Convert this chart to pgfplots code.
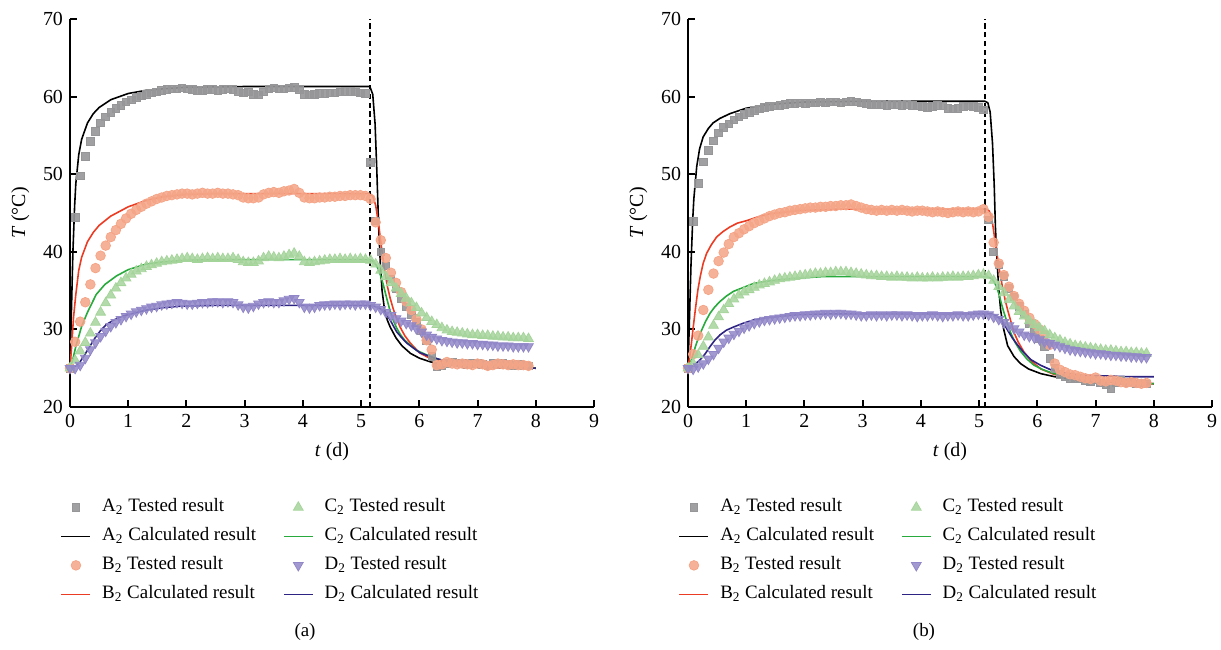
\documentclass[border=0pt]{standalone}
\usepackage{fontspec}
\setmainfont{Liberation Serif}
\usepackage{pgfplots}
\pgfplotsset{compat=1.18}
\usepackage{pgfplotstable}

\definecolor{mgray}{RGB}{150,150,152}
\definecolor{morange}{RGB}{245,165,135}
\definecolor{mgreen}{RGB}{165,212,155}
\definecolor{mpurple}{RGB}{145,135,200}
\definecolor{lred}{RGB}{235,60,35}
\definecolor{lgreen}{RGB}{40,170,60}
\definecolor{lnavy}{RGB}{45,35,130}

\pgfplotstableread{
t A B C D
0 25.0 25.0 25.0 25.0
0.088 44.4 28.4 26.0 25.0
0.175 49.8 31.0 27.2 25.4
0.263 52.3 33.5 28.3 26.3
0.35 54.2 35.8 29.5 27.4
0.438 55.5 37.9 30.9 28.3
0.525 56.6 39.5 32.2 29.1
0.613 57.4 40.8 33.4 29.8
0.7 58.0 41.9 34.4 30.4
0.788 58.5 42.8 35.3 30.9
0.875 58.9 43.6 36.0 31.3
0.963 59.3 44.3 36.6 31.7
1.05 59.6 44.9 37.1 32.0
1.138 59.9 45.4 37.5 32.3
1.225 60.1 45.8 37.8 32.5
1.313 60.3 46.2 38.1 32.7
1.4 60.5 46.5 38.3 32.9
1.488 60.6 46.8 38.5 33.0
1.575 60.8 47.0 38.7 33.2
1.663 60.9 47.2 38.8 33.3
1.75 61.0 47.3 38.9 33.4
1.838 61.0 47.4 39.0 33.5
1.925 61.1 47.5 39.1 33.4
2.013 61.0 47.5 39.2 33.3
2.1 60.9 47.4 39.1 33.3
2.188 60.8 47.5 39.0 33.4
2.275 60.8 47.6 39.1 33.5
2.363 60.9 47.5 39.2 33.5
2.45 60.9 47.5 39.1 33.6
2.538 60.8 47.6 39.2 33.6
2.625 60.9 47.5 39.1 33.5
2.713 61.0 47.5 39.1 33.6
2.8 60.9 47.4 39.2 33.5
2.888 60.7 47.3 39.0 33.2
2.975 60.5 47.0 38.7 32.9
3.063 60.6 46.9 38.6 32.8
3.15 60.3 46.9 38.6 33.0
3.238 60.2 47.0 38.8 33.3
3.325 60.6 47.4 39.2 33.5
3.413 61.0 47.6 39.4 33.6
3.5 61.1 47.7 39.3 33.5
3.588 61.0 47.6 39.2 33.5
3.675 61.0 47.8 39.4 33.7
3.763 61.1 47.9 39.6 33.9
3.85 61.2 48.1 39.8 34.0
3.938 60.9 47.6 39.4 33.5
4.025 60.3 47.0 38.7 32.9
4.113 60.2 46.9 38.6 32.8
4.2 60.3 46.9 38.7 32.9
4.288 60.4 47.0 38.8 33.1
4.375 60.4 47.0 38.9 33.2
4.463 60.5 47.1 39.0 33.2
4.55 60.5 47.1 39.0 33.3
4.638 60.6 47.2 39.1 33.2
4.725 60.7 47.2 39.0 33.3
4.813 60.7 47.3 39.1 33.3
4.9 60.6 47.3 39.0 33.2
4.988 60.5 47.3 39.1 33.3
5.075 60.4 47.2 39.0 33.3
5.163 51.5 46.8 38.9 33.1
5.25 44.0 43.8 38.4 32.9
5.338 40.0 41.5 37.6 32.6
5.425 38.2 39.2 36.8 32.2
5.513 36.5 37.3 36.0 31.8
5.6 35.2 36.0 35.3 31.4
5.688 34.0 34.8 34.6 31.1
5.775 32.9 33.6 34.0 30.8
5.863 31.9 32.5 33.4 30.5
5.95 30.9 31.3 32.8 30.1
6.038 29.8 30.0 32.1 29.7
6.125 28.6 28.6 31.5 29.3
6.213 26.5 27.4 31.0 29.0
6.3 25.2 25.4 30.6 28.8
6.388 25.3 25.5 30.2 28.6
6.475 25.6 25.8 29.9 28.5
6.563 25.8 25.6 29.7 28.4
6.65 25.7 25.5 29.6 28.3
6.738 25.6 25.6 29.5 28.3
6.825 25.5 25.5 29.4 28.2
6.913 25.6 25.4 29.3 28.2
7.0 25.7 25.6 29.3 28.1
7.088 25.5 25.5 29.2 28.1
7.175 25.4 25.3 29.2 28.0
7.263 25.6 25.4 29.1 28.0
7.35 25.7 25.6 29.1 27.9
7.438 25.6 25.5 29.0 27.9
7.525 25.5 25.4 29.0 27.9
7.613 25.4 25.5 28.9 27.8
7.7 25.5 25.4 28.9 27.8
7.788 25.4 25.4 28.9 27.8
7.875 25.3 25.3 28.8 27.8
}\testa

\pgfplotstableread{
t A B C D
0 25.0 25.0 25.0 25.0
0.088 43.9 26.8 25.6 24.9
0.175 48.8 29.2 26.7 25.2
0.263 51.6 32.5 27.8 25.6
0.35 53.1 35.1 29.0 26.2
0.438 54.3 37.2 30.5 26.8
0.525 55.3 38.8 31.6 27.6
0.613 56.0 39.9 32.5 28.4
0.7 56.5 41.0 33.3 28.9
0.788 57.0 41.9 33.9 29.4
0.875 57.4 42.4 34.4 29.8
0.963 57.7 42.9 34.8 30.2
1.05 58.0 43.3 35.1 30.5
1.138 58.2 43.7 35.4 30.8
1.225 58.4 44.0 35.7 31.0
1.313 58.6 44.3 35.9 31.2
1.4 58.7 44.6 36.1 31.3
1.488 58.8 44.8 36.3 31.4
1.575 58.9 45.0 36.5 31.5
1.663 59.0 45.1 36.6 31.6
1.75 59.1 45.3 36.7 31.7
1.838 59.1 45.4 36.8 31.8
1.925 59.2 45.5 36.9 31.8
2.013 59.1 45.6 37.0 31.9
2.1 59.2 45.7 37.1 31.9
2.188 59.2 45.7 37.2 32.0
2.275 59.3 45.8 37.2 32.0
2.363 59.2 45.8 37.3 32.1
2.45 59.3 45.9 37.3 32.0
2.538 59.3 45.9 37.4 32.1
2.625 59.2 46.0 37.4 32.1
2.713 59.3 46.0 37.4 32.0
2.8 59.4 46.1 37.3 32.0
2.888 59.3 45.9 37.2 31.9
2.975 59.2 45.7 37.1 31.8
3.063 59.1 45.5 37.0 31.8
3.15 59.0 45.4 36.9 31.9
3.238 59.0 45.3 36.9 31.8
3.325 59.0 45.4 36.8 31.9
3.413 58.9 45.3 36.8 31.8
3.5 59.0 45.4 36.7 31.9
3.588 59.0 45.3 36.8 31.9
3.675 58.9 45.4 36.7 31.8
3.763 59.0 45.3 36.7 31.9
3.85 58.9 45.2 36.6 31.8
3.938 58.8 45.3 36.7 31.7
4.025 58.7 45.3 36.6 31.8
4.113 58.6 45.2 36.6 31.8
4.2 58.7 45.1 36.7 31.9
4.288 58.9 45.2 36.6 31.8
4.375 58.8 45.1 36.7 31.7
4.463 58.5 45.0 36.7 31.8
4.55 58.4 45.1 36.8 31.8
4.638 58.5 45.2 36.7 31.9
4.725 58.7 45.1 36.8 31.8
4.813 58.8 45.2 36.8 31.8
4.9 58.7 45.1 36.9 31.9
4.988 58.6 45.2 37.0 32.0
5.075 58.3 45.5 37.1 32.0
5.163 44.1 44.5 36.9 31.9
5.25 40.0 41.2 36.3 31.6
5.338 38.3 38.5 35.5 31.3
5.425 36.8 37.0 34.7 30.9
5.513 35.3 35.5 33.8 30.5
5.6 34.2 34.3 33.0 30.1
5.688 33.0 33.3 32.3 29.7
5.775 32.0 32.4 31.7 29.3
5.863 30.8 31.5 31.1 29.1
5.95 29.7 30.7 30.6 28.9
6.038 28.8 30.0 30.2 28.7
6.125 27.8 29.3 29.8 28.4
6.213 26.3 28.0 29.3 28.2
6.3 25.0 25.6 28.9 28.0
6.388 24.2 24.8 28.6 27.8
6.475 23.9 24.5 28.3 27.6
6.563 23.7 24.2 28.1 27.4
6.65 23.6 24.1 27.9 27.3
6.738 23.7 23.9 27.8 27.2
6.825 23.4 23.7 27.7 27.1
6.913 23.3 23.6 27.6 27.0
7.0 23.5 23.8 27.5 26.9
7.088 23.1 23.4 27.4 26.9
7.175 22.9 23.3 27.3 26.8
7.263 22.4 23.5 27.3 26.7
7.35 23.2 23.4 27.2 26.7
7.438 23.4 23.2 27.1 26.6
7.525 23.1 23.1 27.1 26.6
7.613 23.2 23.2 27.0 26.5
7.7 23.0 23.1 27.0 26.5
7.788 23.1 23.0 26.9 26.4
7.875 23.0 23.1 26.9 26.4
}\testb

\pgfplotsset{
  legend image code/.code={\draw[mark repeat=2,mark phase=2,#1] plot coordinates {(0bp,0bp) (7.25bp,0bp) (14.5bp,0bp)};},
  panel/.style={
    scale only axis, width=262bp, height=194bp,
    xmin=0, xmax=9, ymin=20, ymax=70,
    xtick={0,1,...,9}, ytick={20,30,...,70},
    axis lines*=left,
    axis line style={line width=1bp},
    major tick style={line width=1bp, black},
    major tick length=3.5bp, tick align=inside,
    tick label style={font=\fontsize{10}{12}\selectfont},
    label style={font=\fontsize{10}{12}\selectfont},
    /pgf/number format/assume math mode=true,
    xlabel={\textit{t} (d)}, ylabel={\textit{T} (°C)},
    xlabel style={at={(axis description cs:0.5,-0.116)}, anchor=center},
    ylabel style={at={(axis description cs:-0.095,0.5)}, anchor=center},
    legend columns=2, legend cell align=left,
    legend style={draw=none, fill=none, font=\fontsize{9.5}{11}\selectfont,
      at={(axis description cs:-0.03,-0.21)}, anchor=north west,
      row sep=0pt,
      /tikz/every odd column/.style={column sep=3bp},
      /tikz/every even column/.style={column sep=11bp},
      nodes={inner sep=2.5bp, text height=7bp, text depth=2.5bp}},
  },
  mA/.style={only marks, mark=square*, mark size=1.9bp, color=mgray, mark options={draw=none, fill=mgray, fill opacity=0.9}},
  mB/.style={only marks, mark=*, mark size=2.4bp, color=morange, mark options={draw=none, fill=morange, fill opacity=0.85}},
  mC/.style={only marks, mark=triangle*, mark size=2.8bp, color=mgreen, mark options={draw=none, fill=mgreen, fill opacity=0.85}},
  mD/.style={only marks, mark=triangle*, mark size=2.8bp, color=mpurple, mark options={draw=none, fill=mpurple, fill opacity=0.85, rotate=180}},
  lA/.style={black, line width=0.8pt, no marks},
  lB/.style={lred, line width=0.8pt, no marks},
  lC/.style={lgreen, line width=0.8pt, no marks},
  lD/.style={lnavy, line width=0.8pt, no marks},
  vdash/.style={black, line width=1bp, dash pattern=on 2.6bp off 1.8bp, no marks},
}

\newcommand{\legendall}{%
  \addlegendimage{mA}\addlegendentry{A\textsubscript{2} Tested result}
  \addlegendimage{mC}\addlegendentry{C\textsubscript{2} Tested result}
  \addlegendimage{lA}\addlegendentry{A\textsubscript{2} Calculated result}
  \addlegendimage{lC}\addlegendentry{C\textsubscript{2} Calculated result}
  \addlegendimage{mB}\addlegendentry{B\textsubscript{2} Tested result}
  \addlegendimage{mD}\addlegendentry{D\textsubscript{2} Tested result}
  \addlegendimage{lB}\addlegendentry{B\textsubscript{2} Calculated result}
  \addlegendimage{lD}\addlegendentry{D\textsubscript{2} Calculated result}
}

\begin{document}
\begin{tikzpicture}
\path[use as bounding box] (0,0) rectangle (610.5bp,-325bp);

\begin{axis}[panel, at={(35bp,-203.5bp)}, anchor=south west]
\legendall
\addplot[mA, forget plot] table[x=t,y=A] {\testa};
\addplot[mB, forget plot] table[x=t,y=B] {\testa};
\addplot[mC, forget plot] table[x=t,y=C] {\testa};
\addplot[mD, forget plot] table[x=t,y=D] {\testa};
\addplot[lA, forget plot] coordinates {(0,25) (0.02,31) (0.05,40) (0.08,46) (0.1,48.8) (0.15,52.5) (0.2,54.5) (0.3,56.6) (0.4,57.8) (0.5,58.6) (0.7,59.6) (1.0,60.4) (1.3,60.8) (1.6,61.0) (2.0,61.2) (3,61.3) (4,61.3) (5.15,61.3) (5.2,60.3) (5.24,56.5) (5.27,50.5) (5.30,43.5) (5.33,38.5) (5.36,35.0) (5.40,32.7) (5.45,31.2) (5.5,30.3) (5.6,28.9) (5.7,27.9) (5.85,26.9) (6.0,26.3) (6.2,25.8) (6.5,25.4) (7.0,25.15) (7.5,25.05) (8.0,25.0)};
\addplot[lB, forget plot] coordinates {(0,25) (0.03,28) (0.06,31.5) (0.1,34.5) (0.15,37.6) (0.2,39.3) (0.3,41.3) (0.4,42.5) (0.5,43.4) (0.7,44.6) (1.0,45.8) (1.3,46.6) (1.6,47.1) (2.0,47.4) (2.5,47.5) (5.15,47.5) (5.2,47.2) (5.25,46.0) (5.3,43.6) (5.35,40.6) (5.4,37.8) (5.45,35.6) (5.5,34.0) (5.55,32.7) (5.6,31.6) (5.67,30.3) (5.75,29.2) (5.85,28.2) (6.0,27.0) (6.2,26.2) (6.5,25.6) (7.0,25.2) (7.5,25.05) (8.0,25.0)};
\addplot[lC, forget plot] coordinates {(0,25) (0.05,26.2) (0.1,27.8) (0.2,30.4) (0.3,32.2) (0.45,34.5) (0.6,35.8) (0.8,36.9) (1.0,37.7) (1.3,38.4) (1.6,38.7) (2.0,38.9) (2.5,39.0) (5.15,39.0) (5.2,38.8) (5.26,38.3) (5.3,37.7) (5.34,36.8) (5.38,35.8) (5.43,34.3) (5.49,32.6) (5.55,31.2) (5.61,30.2) (5.67,29.4) (5.75,28.6) (5.84,28.0) (5.95,27.3) (6.07,26.9) (6.25,26.3) (6.42,26.0) (6.65,25.6) (6.88,25.4) (7.2,25.2) (7.6,25.1) (8.0,25.0)};
\addplot[lD, forget plot] coordinates {(0,25) (0.05,25.1) (0.1,25.3) (0.17,25.8) (0.25,26.7) (0.34,27.8) (0.43,28.9) (0.52,29.8) (0.62,30.6) (0.75,31.2) (0.9,31.7) (1.1,32.1) (1.32,32.5) (1.6,32.8) (1.9,33.0) (2.5,33.1) (5.15,33.1) (5.22,33.0) (5.3,32.8) (5.38,32.4) (5.45,31.8) (5.5,31.2) (5.55,30.5) (5.61,29.7) (5.7,28.9) (5.79,28.2) (5.9,27.6) (6.01,27.0) (6.15,26.6) (6.36,26.1) (6.6,25.7) (6.88,25.4) (7.2,25.2) (7.6,25.1) (8.0,25.0)};
\addplot[vdash, forget plot] coordinates {(5.15,20) (5.15,70)};
\end{axis}

\begin{axis}[panel, at={(344bp,-203.5bp)}, anchor=south west]
\legendall
\addplot[mA, forget plot] table[x=t,y=A] {\testb};
\addplot[mB, forget plot] table[x=t,y=B] {\testb};
\addplot[mC, forget plot] table[x=t,y=C] {\testb};
\addplot[mD, forget plot] table[x=t,y=D] {\testb};
\addplot[lA, forget plot] coordinates {(0,25) (0.02,30) (0.05,38) (0.08,44) (0.1,46.8) (0.15,51.0) (0.2,53.3) (0.26,54.8) (0.35,55.9) (0.43,56.6) (0.55,57.2) (0.72,57.8) (1.0,58.5) (1.3,58.9) (1.6,59.1) (2.0,59.3) (3,59.4) (5.1,59.4) (5.15,59.2) (5.19,58.0) (5.23,54.0) (5.26,48.5) (5.28,43.2) (5.31,38.5) (5.34,35.0) (5.37,32.5) (5.42,30.1) (5.49,27.9) (5.6,26.5) (5.71,25.6) (5.85,24.9) (6.06,24.3) (6.3,23.9) (6.63,23.5) (7.0,23.3) (7.5,23.1) (8.0,23.0)};
\addplot[lB, forget plot] coordinates {(0,25) (0.03,26.5) (0.06,28.3) (0.09,30.3) (0.13,32.8) (0.17,35.1) (0.21,36.8) (0.26,38.5) (0.32,39.8) (0.4,40.9) (0.49,41.9) (0.6,42.6) (0.72,43.2) (0.85,43.7) (1.0,44.0) (1.2,44.5) (1.41,44.9) (1.65,45.1) (1.87,45.3) (2.2,45.4) (2.6,45.5) (5.12,45.5) (5.17,45.3) (5.2,44.8) (5.23,43.7) (5.28,41.1) (5.34,38.1) (5.40,35.5) (5.45,33.7) (5.49,32.5) (5.55,30.9) (5.6,29.6) (5.67,28.4) (5.77,27.1) (5.9,25.9) (6.06,24.9) (6.29,24.2) (6.6,23.7) (6.92,23.45) (7.4,23.2) (8.0,23.0)};
\addplot[lC, forget plot] coordinates {(0,25) (0.04,25.6) (0.09,26.9) (0.15,28.3) (0.21,29.5) (0.3,31.0) (0.38,32.1) (0.46,32.9) (0.55,33.6) (0.66,34.3) (0.78,34.9) (0.95,35.4) (1.12,35.9) (1.35,36.2) (1.58,36.4) (1.9,36.6) (2.3,36.8) (5.12,36.8) (5.17,36.7) (5.22,36.5) (5.26,36.1) (5.3,35.5) (5.34,34.6) (5.38,33.4) (5.43,32.1) (5.49,30.7) (5.54,29.6) (5.62,28.3) (5.71,27.2) (5.82,26.2) (5.94,25.4) (6.1,24.8) (6.29,24.3) (6.6,23.8) (6.92,23.5) (7.4,23.2) (8.0,23.0)};
\addplot[lD, forget plot] coordinates {(0,25) (0.05,25.1) (0.1,25.3) (0.15,25.7) (0.21,26.1) (0.3,26.9) (0.38,27.8) (0.46,28.6) (0.55,29.3) (0.66,29.9) (0.78,30.3) (0.95,30.8) (1.12,31.2) (1.35,31.5) (1.58,31.7) (1.9,31.9) (2.4,32.0) (5.12,32.0) (5.2,32.0) (5.26,31.9) (5.32,31.6) (5.37,31.3) (5.43,30.7) (5.49,29.9) (5.57,28.9) (5.66,28.0) (5.77,27.0) (5.89,26.1) (6.05,25.4) (6.23,24.8) (6.45,24.4) (6.75,24.1) (7.2,24.0) (7.6,23.9) (8.0,23.9)};
\addplot[vdash, forget plot] coordinates {(5.1,20) (5.1,70)};
\end{axis}

\node[font=\fontsize{9.5}{11}\selectfont] at (152.5bp,-316bp) {(a)};
\node[font=\fontsize{9.5}{11}\selectfont] at (462bp,-316bp) {(b)};
\end{tikzpicture}
\end{document}
